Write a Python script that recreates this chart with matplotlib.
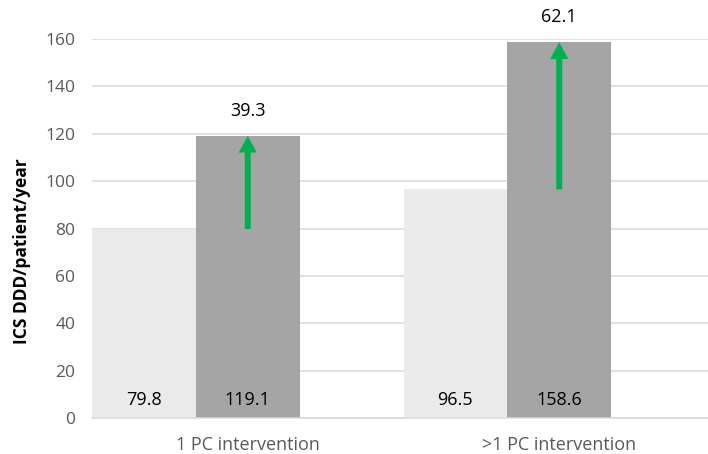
import matplotlib
matplotlib.use("Agg")
import matplotlib.pyplot as plt
import numpy as np

categories = ["1 PC intervention", ">1 PC intervention"]
before_values = [79.8, 96.5]
after_values = [119.1, 158.6]
increase_labels = ["39.3", "62.1"]
y_ticks = [0, 20, 40, 60, 80, 100, 120, 140, 160]

W, H = 708, 454
fig = plt.figure(figsize=(W / 100, H / 100), dpi=100)

# plot area in pixels: left 92, right 715 (extends past the edge), y 39..418
left_px, right_px, top_px, bottom_px = 92, 715, 39, 418
ax = fig.add_axes([left_px / W, 1 - bottom_px / H,
                   (right_px - left_px) / W, (bottom_px - top_px) / H])

font = "Open Sans"
light = "#EBEBEB"
dark = "#A5A5A5"
green = "#00B050"
grid_c = "#D9D9D9"

x = np.arange(len(categories))
bw = 1 / 3
x_before = x - bw
x_after = x

ax.bar(x_before, before_values, width=bw, color=light, zorder=2, linewidth=0)
ax.bar(x_after, after_values, width=bw, color=dark, zorder=2, linewidth=0)

ax.set_xlim(-0.5, len(categories) - 0.5)
ax.set_ylim(0, 160)
ax.set_yticks(y_ticks)
ax.grid(axis="y", color=grid_c, linewidth=1.1, zorder=0)
ax.set_axisbelow(True)
for s in ["top", "right", "left"]:
    ax.spines[s].set_visible(False)
ax.spines["bottom"].set_color(grid_c)
ax.spines["bottom"].set_linewidth(1.1)
ax.spines["bottom"].set_zorder(3)

ax.tick_params(axis="y", length=0, pad=12, labelsize=12.5, labelcolor="#595959")
ax.tick_params(axis="x", length=0, pad=13, labelsize=13, labelcolor="#595959")
ax.set_xticks(x)
ax.set_xticklabels(categories, fontfamily=font)
for lab in ax.get_yticklabels():
    lab.set_fontfamily(font)

# value labels near the base of each bar
for xb, v in zip(x_before, before_values):
    ax.annotate(f"{v:.1f}", (xb, 0), xytext=(0, 13), textcoords="offset points",
                ha="center", va="center", fontsize=13, fontfamily=font, color="black")
for xa, v in zip(x_after, after_values):
    ax.annotate(f"{v:.1f}", (xa, 0), xytext=(0, 13), textcoords="offset points",
                ha="center", va="center", fontsize=13, fontfamily=font, color="black")

# increase arrows and labels
for xa, b, a, lab in zip(x_after, before_values, after_values, increase_labels):
    ax.annotate("", xy=(xa, a), xytext=(xa, b),
                arrowprops=dict(facecolor=green, edgecolor="none", width=4.3,
                                headwidth=13, headlength=12, shrink=0),
                zorder=4)
    ax.annotate(lab, (xa, a), xytext=(0, 18), textcoords="offset points",
                ha="center", va="center", fontsize=13, fontfamily=font,
                color="black", annotation_clip=False)

fig.text(22 / W, 1 - 251 / H, "ICS DDD/patient/year", rotation=90,
         ha="center", va="center", fontsize=12.5, fontweight="bold",
         fontfamily=font, color="black")

fig.savefig("out.png", dpi=100)
